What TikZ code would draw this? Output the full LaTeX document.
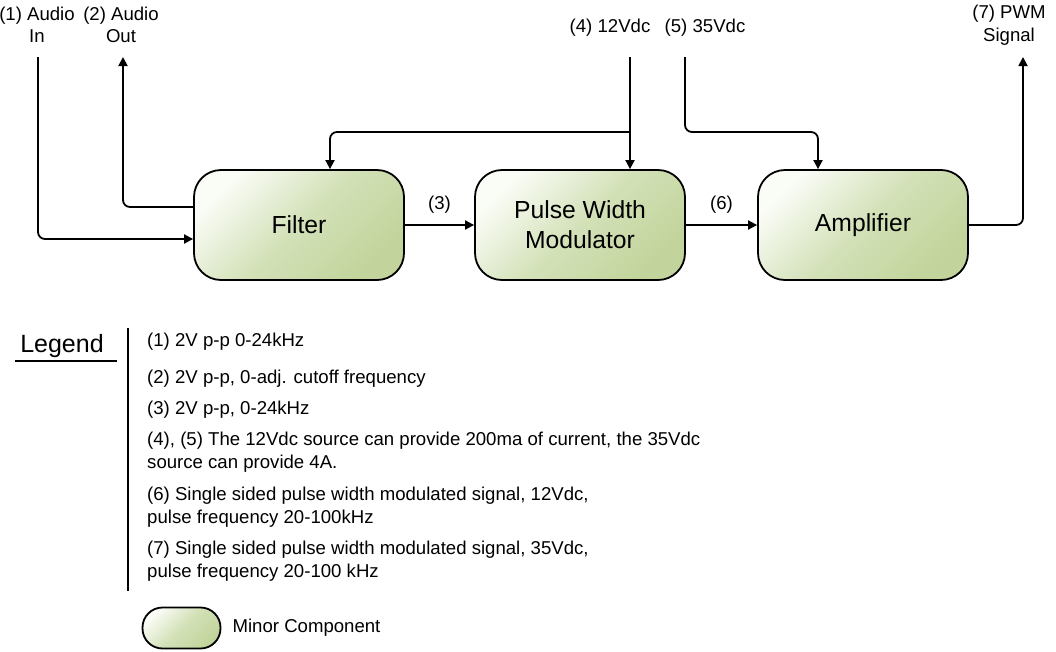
\documentclass[tikz,border=0pt]{standalone}
\usepackage{fontspec}
\setmainfont{Liberation Sans}
\usetikzlibrary{arrows.meta,positioning}
\definecolor{block-hell}{HTML}{FAFCF6}
\definecolor{block-mitte}{HTML}{D3E1B8}
\definecolor{block-gruen}{HTML}{C2D49B}

\tikzset{
  block/.style={draw, line width=1.8pt, rounded corners=27pt,
    minimum width=210pt, minimum height=110pt, inner sep=0pt, align=center,
    font=\fontsize{24.7}{30}\selectfont,
    top color=block-hell, bottom color=block-gruen, middle color=block-mitte,
    shading angle=45},
  muster/.style={block, minimum width=78pt, minimum height=41pt, rounded corners=20pt},
  pfeil/.style={line width=1.8pt, rounded corners=7pt, -{Triangle[length=9pt,width=9pt]}},
  beschriftung/.style={align=center, inner sep=0pt, font=\fontsize{18.6}{22.5}\selectfont},
  legende/.style={align=left, anchor=west, inner sep=0pt, font=\fontsize{18.6}{23}\selectfont},
}

\begin{document}
\begin{tikzpicture}[x=1pt, y=-1pt]
    \useasboundingbox (0,0) rectangle (1056,651);

    % Bloecke
    \node[block] (filter) at (299,225) {Filter};
    \node[block] (pwm) at (580,225) {Pulse Width\\Modulator};
    \node[block] (amp) at (863,225) {Amplifier};

    % Anschluesse oben
    \coordinate (ein) at (38,57);
    \coordinate (aus) at (123,57);
    \coordinate (v12) at (630,57);
    \coordinate (v35) at (685,57);
    \coordinate (pwmaus) at (1023,57);
    \coordinate (abzw) at (630,132);
    \coordinate (knick35) at (818,132);

    \node[beschriftung] (l-ein) at (37,25) {(1) Audio\\In};
    \node[beschriftung] (l-aus) at (121,25) {(2) Audio\\Out};
    \node[beschriftung] (l-12) at (610,28) {(4) 12Vdc};
    \node[beschriftung] (l-35) at (705,28) {(5) 35Vdc};
    \node[beschriftung] (l-pwm) at (1009,25) {(7) PWM\\Signal};

    % Verbindungen
    \draw[pfeil] (ein) |- ([yshift=-14pt]filter.west);
    \draw[pfeil] ([yshift=18pt]filter.west) -| (aus);
    \draw[pfeil] (v12) -- (v12 |- pwm.north);
    \draw[pfeil] (abzw) -| ([xshift=31pt]filter.north);
    \draw[pfeil] (v35) |- (knick35) -- (knick35 |- amp.north);
    \draw[pfeil] (filter.east) -- node[beschriftung, above=11pt] (l-3) {(3)} (pwm.west);
    \draw[pfeil] (pwm.east) -- node[beschriftung, above=11pt] (l-6) {(6)} (amp.west);
    \draw[pfeil] (amp.east) -| (pwmaus);

    % Legende
    \node[inner sep=0pt, font=\fontsize{25}{30}\selectfont] (legende) at (62,346) {Legend};
    \draw[line width=1.8pt] (15,361) -- (117,361);
    \draw[line width=1.8pt] (128,328) -- (128,591);

    \foreach \y/\txt [count=\i] in {
        342/{(1) 2V p-p 0-24kHz},
        379/{(2) 2V p-p, 0-adj. cutoff frequency},
        410/{(3) 2V p-p, 0-24kHz},
        452/{(4), (5) The 12Vdc source can provide 200ma of current, the 35Vdc\\source can provide 4A.},
        507/{(6) Single sided pulse width modulated signal, 12Vdc,\\pulse frequency 20-100kHz},
        561/{(7) Single sided pulse width modulated signal, 35Vdc,\\pulse frequency 20-100 kHz}} {
        \node[legende] (eintrag-\i) at (147,\y) {\txt};
    }

    \node[muster] (muster) at (181.5,628) {};
    \node[legende, right=11pt of muster] (l-muster) {Minor Component};
\end{tikzpicture}
\end{document}
